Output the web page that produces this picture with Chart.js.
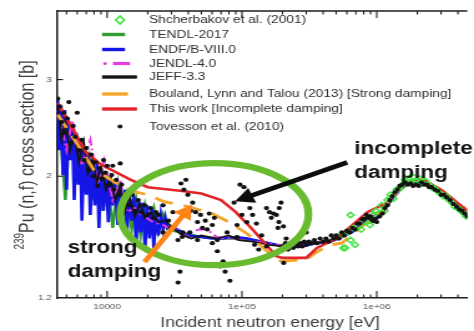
<!DOCTYPE html>
<html>
<head>
<meta charset="utf-8">
<script src="https://cdn.jsdelivr.net/npm/chart.js@4.4.1/dist/chart.umd.min.js"></script>
<style>
  html, body { margin: 0; padding: 0; background: #fff; overflow: hidden; }
  /* the figure is laid out on a narrower canvas and widened to 474px */
  #wrap { width: 380px; height: 331px; transform: scaleX(1.2474); transform-origin: 0 0; }
</style>
</head>
<body>
<div id="wrap"><canvas id="c" width="380" height="331"></canvas></div>
<script>
const FONT = "'Liberation Sans', Arial, Helvetica, sans-serif";

// Axis ticks
const xTickValues = [1e4, 1e5, 1e6];
const xTickLabels = ['10000', '1e+05', '1e+06'];
const xMinorValues = [5e3, 6e3, 7e3, 8e3, 9e3, 2e4, 3e4, 4e4, 5e4, 6e4, 7e4, 8e4, 9e4,
                      2e5, 3e5, 4e5, 5e5, 6e5, 7e5, 8e5, 9e5, 2e6, 3e6, 4e6];
const yTickValues = [1.2, 2, 3];
const yTickLabels = ['1.2', '2', '3'];

// Energies in eV, cross sections in barns
const shcherbakovE = [537e3, 565e3, 583e3, 606e3, 639e3, 639e3, 670e3, 690e3, 726e3, 765e3,
  806e3, 847e3, 890e3, 936e3, 984e3, 1.034e6, 1.087e6, 1.143e6, 1.20e6, 1.263e6,
  1.33e6, 1.40e6, 1.47e6, 1.54e6, 1.62e6, 1.71e6, 1.79e6, 1.89e6, 1.98e6, 2.08e6,
  2.19e6, 2.30e6, 2.42e6, 2.55e6, 2.68e6, 2.81e6, 2.96e6, 3.11e6, 3.27e6, 3.44e6,
  3.62e6, 3.80e6, 4.0e6, 4.2e6, 4.42e6, 4.62e6];
const shcherbakovXS = [1.56, 1.48, 1.48, 1.58, 1.53, 1.70, 1.61, 1.50, 1.62, 1.60,
  1.65, 1.68, 1.63, 1.70, 1.73, 1.71, 1.77, 1.73, 1.81, 1.85,
  1.82, 1.89, 1.90, 1.93, 1.97, 1.98, 1.95, 1.99, 1.97, 1.98,
  1.94, 1.96, 1.93, 1.91, 1.90, 1.88, 1.86, 1.84, 1.84, 1.81,
  1.79, 1.76, 1.75, 1.73, 1.71, 1.69];

const tendlE = [4300, 4600, 4900, 5200, 5600, 6000, 6400, 6900, 7400, 8000,
  8600, 9300, 10000, 11000, 12000, 13000, 14000, 15200, 16400, 17700,
  19100, 20600, 22200, 24000, 26000, 28000, 35000, 50000, 70000, 1e5,
  1.4e5, 2e5, 3e5, 4.5e5, 6e5, 7.5e5, 9e5, 1.1e6, 1.4e6, 1.7e6,
  2e6, 2.4e6, 3e6, 3.6e6, 4.7e6];
const tendlXS = [2.58, 2.23, 1.81, 2.33, 2.28, 1.97, 2.23, 1.89, 2.14, 1.81,
  2.07, 1.73, 2.01, 1.61, 1.93, 1.70, 1.85, 1.60, 1.81, 1.56,
  1.77, 1.63, 1.75, 1.58, 1.70, 1.60, 1.58, 1.55, 1.54, 1.54,
  1.52, 1.49, 1.50, 1.52, 1.57, 1.62, 1.68, 1.73, 1.86, 1.94,
  1.95, 1.94, 1.88, 1.82, 1.71];

const endfE = [4300, 4400, 4550, 4700, 4850, 5000, 5150, 5300, 5500, 5700,
  5900, 6100, 6300, 6500, 6750, 7000, 7250, 7500, 7800, 8100,
  8400, 8700, 9000, 9400, 9800, 10200, 10600, 11000, 11500, 12000,
  12500, 13000, 13500, 14000, 14600, 15200, 15800, 16400, 17000, 17700,
  18400, 19100, 19800, 20600, 21400, 22200, 23000, 24000, 25000, 26000,
  27000, 28000, 30000, 33000, 40000, 50000, 60000, 70000, 90000, 1.1e5,
  1.4e5, 1.8e5, 2.2e5, 2.8e5, 3.5e5, 4.5e5, 5.5e5, 6.5e5, 7.5e5, 8.5e5,
  9.5e5, 1.1e6, 1.3e6, 1.5e6, 1.7e6, 2e6, 2.2e6, 2.6e6, 3e6, 3.6e6,
  4.7e6];
const endfXS = [2.77, 2.23, 2.69, 2.01, 2.64, 1.89, 2.55, 2.14, 2.48, 1.81,
  2.40, 1.93, 2.33, 1.66, 2.25, 1.85, 2.21, 1.70, 2.16, 1.77,
  2.11, 1.61, 2.07, 1.73, 2.03, 1.65, 1.98, 1.77, 1.95, 1.63,
  1.92, 1.72, 1.89, 1.56, 1.86, 1.66, 1.84, 1.50, 1.81, 1.58,
  1.79, 1.47, 1.77, 1.54, 1.75, 1.48, 1.72, 1.56, 1.70, 1.60,
  1.68, 1.61, 1.62, 1.60, 1.56, 1.55, 1.54, 1.54, 1.55, 1.54,
  1.52, 1.50, 1.49, 1.49, 1.51, 1.52, 1.55, 1.58, 1.62, 1.68,
  1.66, 1.72, 1.82, 1.90, 1.94, 1.94, 1.95, 1.91, 1.87, 1.81,
  1.69];

const jendlE = [4300, 5000, 5500, 6500, 7500, 8500, 9500, 11000, 12500, 14000,
  16000, 18000, 22000, 26000, 30000, 33000, 39700, 42000, 48000, 55000,
  65000, 80000, 1e5, 1.3e5, 1.8e5, 2.5e5, 3.5e5, 4.5e5, 5.5e5, 6.5e5,
  7.5e5, 9e5, 1.1e6, 1.3e6, 1.5e6, 1.8e6, 2.1e6, 2.4e6, 3e6, 3.6e6,
  4.7e6];
const jendlXS = [2.64, 2.23, 2.53, 2.09, 2.33, 1.93, 2.14, 1.81, 1.97, 1.72,
  1.75, 1.70, 1.65, 1.63, 1.60, 1.60, 1.55, 1.58, 1.60, 1.60,
  1.55, 1.54, 1.53, 1.52, 1.50, 1.49, 1.51, 1.53, 1.55, 1.60,
  1.64, 1.68, 1.73, 1.84, 1.91, 1.96, 1.97, 1.95, 1.88, 1.81,
  1.71];

const jeffE = [4300, 4600, 4900, 5300, 5700, 6200, 6700, 7200, 7800, 8400,
  9000, 9800, 10600, 11500, 12500, 13500, 14600, 16000, 17500, 19000,
  21000, 24000, 27000, 30000, 35000, 42000, 50000, 65000, 80000, 95000,
  1.2e5, 1.6e5, 2e5, 2.8e5, 3.6e5, 4.5e5, 5.5e5, 6.5e5, 7.5e5, 8.5e5,
  9.5e5, 1.1e6, 1.3e6, 1.6e6, 1.8e6, 2e6, 2.2e6, 2.6e6, 3e6, 3.6e6,
  4.7e6];
const jeffXS = [2.69, 2.33, 2.51, 2.23, 2.40, 2.12, 2.31, 2.03, 2.16, 1.95,
  2.08, 1.89, 2.00, 1.81, 1.92, 1.72, 1.84, 1.69, 1.78, 1.68,
  1.72, 1.65, 1.66, 1.62, 1.57, 1.54, 1.56, 1.54, 1.56, 1.53,
  1.52, 1.50, 1.49, 1.51, 1.51, 1.53, 1.56, 1.61, 1.65, 1.69,
  1.65, 1.71, 1.84, 1.94, 1.93, 1.93, 1.95, 1.91, 1.86, 1.79,
  1.68];

const boulandE = [4300, 6000, 8000, 10000, 14000, 20000, 26000, 40000, 60000, 80000,
  1.1e5, 1.4e5, 1.8e5, 2e5, 3e5, 3.5e5, 4.5e5, 5.5e5, 7.5e5, 1.1e6,
  1.5e6, 1.9e6, 2.2e6, 3e6, 4.7e6];
const boulandXS = [2.59, 2.29, 2.05, 1.99, 1.89, 1.85, 1.80, 1.76, 1.71, 1.65,
  1.57, 1.49, 1.41, 1.40, 1.41, 1.45, 1.50, 1.51, 1.61, 1.73,
  1.91, 1.97, 1.97, 1.89, 1.73];

const thisWorkE = [4300, 5500, 7000, 9000, 15000, 20000, 36000, 50000, 70000, 90000,
  1.2e5, 1.8e5, 2e5, 3e5, 3.6e5, 5e5, 7e5, 8.5e5, 1.2e6, 1.5e6,
  1.9e6, 2.2e6, 3e6, 4.7e6];
const thisWorkXS = [2.72, 2.45, 2.21, 2.10, 1.97, 1.91, 1.88, 1.86, 1.81, 1.72,
  1.60, 1.43, 1.42, 1.42, 1.48, 1.54, 1.65, 1.72, 1.79, 1.92,
  1.97, 1.97, 1.89, 1.73];

// Tovesson et al. (2010): resolved region, intermediate region, fast region
const tovLowE = [4300, 4450, 4600, 4750, 4900, 5050, 5200, 5400, 5600, 5800,
  6000, 6250, 6500, 6750, 7000, 7300, 7600, 7900, 8200, 8500,
  8800, 9100, 9200, 9400, 9700, 10000, 10400, 10800, 11000, 11200,
  11700, 12200, 12500, 12800, 13400, 14000, 14700, 15400, 16200, 17000,
  18000, 19000, 20000, 21000, 22000, 23000, 24000, 26000, 28500, 30800];
const tovLowXS = [2.77, 2.68, 2.51, 2.61, 2.40, 2.55, 2.73, 2.30, 2.47, 2.36,
  2.61, 2.23, 2.33, 2.14, 2.25, 2.05, 2.19, 2.00, 2.12, 1.92,
  2.07, 1.98, 1.98, 2.14, 2.03, 2.09, 1.93, 2.01, 2.09, 1.89,
  1.97, 1.85, 2.11, 1.93, 1.81, 1.87, 1.77, 1.85, 1.73, 1.81,
  1.72, 1.77, 1.70, 1.75, 1.68, 1.72, 1.70, 1.77, 1.66, 1.72];
const tovMidE = [33500, 34700, 33600, 35300, 37100, 38400, 39700, 41700, 43100, 45300,
  46800, 49300, 50900, 53500, 55300, 57200, 60300, 62400, 65600, 65700,
  69000, 72500, 75000, 77600, 81500, 87400, 91900, 96700, 100000, 103400,
  108800, 114400, 120000, 128000, 133000, 140000, 144600, 152000, 160000, 165000,
  171000, 180000, 189000, 195000, 188000, 203000, 204000, 185000, 213000, 300000,
  36500, 41000, 46800, 60300, 92000, 124000, 152000, 26000, 29400, 36000];
const tovMidXS = [1.53, 1.34, 1.28, 1.94, 1.89, 1.97, 1.85, 1.73, 1.79, 1.72,
  1.65, 1.70, 1.61, 1.66, 1.60, 1.71, 1.63, 1.68, 1.53, 1.46,
  1.37, 1.40, 1.34, 1.58, 1.29, 1.79, 1.63, 1.93, 1.70, 1.91,
  1.65, 1.75, 1.70, 1.64, 1.47, 1.56, 1.42, 1.75, 1.72, 1.68,
  1.71, 1.70, 1.75, 1.79, 1.65, 1.62, 1.39, 1.61, 1.54, 1.58,
  1.58, 1.58, 1.53, 1.51, 1.55, 1.50, 1.49, 1.58, 1.61, 1.55];
const tovHighE = [2.0e5, 2.1e5, 2.2e5, 2.3e5, 2.4e5, 2.5e5, 2.6e5, 2.7e5, 2.8e5, 2.9e5,
  3.0e5, 3.15e5, 3.3e5, 3.45e5, 3.6e5, 3.8e5, 4.0e5, 4.2e5, 4.4e5, 4.6e5,
  4.8e5, 5.0e5, 5.25e5, 5.5e5, 5.75e5, 6.0e5, 6.3e5, 6.6e5, 6.9e5, 7.2e5,
  7.5e5, 7.8e5, 8.1e5, 8.4e5, 8.7e5, 9.0e5, 9.3e5, 9.6e5, 1.0e6, 1.05e6,
  1.1e6, 1.15e6, 1.2e6, 1.25e6, 1.3e6, 1.36e6, 1.42e6, 1.48e6, 1.55e6, 1.62e6,
  1.7e6, 1.78e6, 1.86e6, 1.95e6, 2.05e6, 2.15e6, 2.25e6, 2.35e6, 2.45e6, 2.55e6,
  2.7e6, 2.85e6, 3.0e6, 3.15e6, 3.3e6, 3.5e6, 3.7e6, 3.9e6, 4.1e6, 4.3e6,
  4.5e6, 4.7e6];
const tovHighXS = [1.49, 1.51, 1.47, 1.50, 1.48, 1.51, 1.49, 1.51, 1.49, 1.52,
  1.50, 1.52, 1.51, 1.53, 1.51, 1.54, 1.52, 1.54, 1.52, 1.56,
  1.54, 1.56, 1.54, 1.58, 1.56, 1.59, 1.58, 1.61, 1.60, 1.64,
  1.64, 1.67, 1.67, 1.70, 1.68, 1.69, 1.66, 1.67, 1.65, 1.69,
  1.71, 1.75, 1.77, 1.81, 1.84, 1.87, 1.89, 1.92, 1.93, 1.95,
  1.93, 1.94, 1.92, 1.93, 1.92, 1.95, 1.93, 1.93, 1.91, 1.91,
  1.89, 1.88, 1.85, 1.85, 1.83, 1.81, 1.78, 1.76, 1.74, 1.73,
  1.71, 1.69];

const tovE = tovLowE.concat(tovMidE, tovHighE);
const tovXS = tovLowXS.concat(tovMidXS, tovHighXS);

const toPts = (es, xs) => es.map((e, i) => ({ x: e, y: xs[i] }));

function lineSet(label, es, xs, color, width, dash, order, legendKind) {
  return {
    label, data: toPts(es, xs), showLine: true, borderColor: color, backgroundColor: color,
    borderWidth: width, borderDash: dash, pointRadius: 0, pointHoverRadius: 0,
    tension: 0, fill: false, order, legendKind
  };
}

const datasets = [
  {
    label: 'Shcherbakov et al. (2001)', data: toPts(shcherbakovE, shcherbakovXS),
    showLine: false, pointStyle: 'rectRot', pointRadius: 2.8, borderWidth: 1.4,
    borderColor: '#3fe33f', backgroundColor: 'rgba(255,255,255,0)', order: 2, legendKind: 'diamond'
  },
  lineSet('TENDL-2017', tendlE, tendlXS, '#2f9d2f', 2.4, [], 8, 'line'),
  lineSet('ENDF/B-VIII.0', endfE, endfXS, '#1515e8', 2.6, [], 7, 'line'),
  lineSet('JENDL-4.0', jendlE, jendlXS, '#e23ce2', 2.0, [2, 3, 9, 3], 6, 'dashdot'),
  lineSet('JEFF-3.3', jeffE, jeffXS, '#141414', 1.8, [], 5, 'line'),
  lineSet('Bouland, Lynn and Talou (2013) [Strong damping]', boulandE, boulandXS, '#f4a52a', 2.8, [15, 9], 4, 'line'),
  lineSet('This work [Incomplete damping]', thisWorkE, thisWorkXS, '#e2252b', 2.6, [], 3, 'line'),
  {
    label: 'Tovesson et al. (2010)', data: toPts(tovE, tovXS),
    showLine: false, pointStyle: 'circle', pointRadius: 2.1, borderWidth: 0,
    backgroundColor: '#121212', borderColor: '#121212', order: 1, legendKind: 'dot'
  }
];

// legend rows: vertical position and symbol span in canvas px
const legendLayout = [
  { y: 20, x0: 0, x1: 0 },
  { y: 34.5, x0: 81.8, x1: 100.2 },
  { y: 49.5, x0: 81.8, x1: 100.2 },
  { y: 63.5, x0: 90.6, x1: 104.2 },
  { y: 77, x0: 81.8, x1: 109.8 },
  { y: 94, x0: 81.8, x1: 102.6 },
  { y: 109, x0: 81.8, x1: 109.8 },
  { y: 126.5, x0: 0, x1: 0 }
];

function arrow(ctx, x0, y0, x1, y1, color, width, headLen, headHalf) {
  const dx = x1 - x0, dy = y1 - y0, len = Math.hypot(dx, dy);
  const ux = dx / len, uy = dy / len;
  const bx = x1 - ux * headLen, by = y1 - uy * headLen;
  ctx.strokeStyle = color; ctx.fillStyle = color; ctx.lineWidth = width; ctx.lineCap = 'butt';
  ctx.beginPath(); ctx.moveTo(x0, y0); ctx.lineTo(bx + ux * 2, by + uy * 2); ctx.stroke();
  ctx.beginPath();
  ctx.moveTo(x1, y1);
  ctx.lineTo(bx - uy * headHalf, by + ux * headHalf);
  ctx.lineTo(bx + uy * headHalf, by - ux * headHalf);
  ctx.closePath(); ctx.fill();
}

const decor = {
  id: 'decor',
  afterDraw(chart) {
    const { ctx, chartArea: a } = chart;
    const xs = chart.scales.x, ys = chart.scales.y;
    ctx.save();

    // top frame line and inward tick marks
    ctx.strokeStyle = '#1e1e1e'; ctx.lineWidth = 1.5;
    ctx.beginPath(); ctx.moveTo(a.left, a.top); ctx.lineTo(a.right, a.top); ctx.stroke();
    ctx.lineWidth = 1.1;
    const tick = (v, len) => {
      const px = xs.getPixelForValue(v);
      ctx.beginPath();
      ctx.moveTo(px, a.bottom); ctx.lineTo(px, a.bottom - len);
      ctx.moveTo(px, a.top); ctx.lineTo(px, a.top + len);
      ctx.stroke();
    };
    xTickValues.forEach(v => tick(v, 7));
    xMinorValues.forEach(v => tick(v, 3.5));
    yTickValues.slice(1).forEach(v => {
      const py = ys.getPixelForValue(v);
      ctx.beginPath(); ctx.moveTo(a.left, py); ctx.lineTo(a.left + 5, py); ctx.stroke();
    });

    // axis titles
    ctx.fillStyle = '#3c3c3c';
    ctx.font = `14px ${FONT}`; ctx.textAlign = 'center'; ctx.textBaseline = 'alphabetic';
    ctx.fillText('Incident neutron energy [eV]', 216.5, 327);

    ctx.save();
    ctx.translate(26.5, 155); ctx.rotate(-Math.PI / 2);
    const main = 'Pu (n,f) cross section [b]', sup = '239';
    ctx.font = `16px ${FONT}`; const wMain = ctx.measureText(main).width;
    ctx.font = `10px ${FONT}`; const wSup = ctx.measureText(sup).width;
    const start = -(wMain + wSup) / 2;
    ctx.textAlign = 'left';
    ctx.fillText(sup, start, -8);
    ctx.font = `16px ${FONT}`; ctx.fillText(main, start + wSup, 0);
    ctx.restore();

    // legend
    ctx.font = `11px ${FONT}`; ctx.textAlign = 'left'; ctx.textBaseline = 'middle';
    chart.data.datasets.forEach((ds, i) => {
      const L = legendLayout[i];
      if (ds.legendKind === 'diamond') {
        ctx.strokeStyle = ds.borderColor; ctx.lineWidth = 1.6;
        ctx.beginPath();
        ctx.moveTo(96.2, L.y - 4); ctx.lineTo(99.6, L.y); ctx.lineTo(96.2, L.y + 4); ctx.lineTo(92.8, L.y);
        ctx.closePath(); ctx.stroke();
      } else if (ds.legendKind === 'dot') {
        ctx.fillStyle = ds.backgroundColor;
        ctx.beginPath(); ctx.arc(96.2, L.y, 2, 0, Math.PI * 2); ctx.fill();
      } else if (ds.legendKind === 'dashdot') {
        ctx.strokeStyle = ds.borderColor; ctx.lineWidth = 3.2;
        ctx.beginPath(); ctx.moveTo(L.x0, L.y); ctx.lineTo(L.x1, L.y); ctx.stroke();
        ctx.fillStyle = ds.borderColor;
        ctx.beginPath(); ctx.arc(84.2, L.y, 1.5, 0, Math.PI * 2); ctx.fill();
      } else {
        ctx.strokeStyle = ds.borderColor; ctx.lineWidth = 3.4;
        ctx.beginPath(); ctx.moveTo(L.x0, L.y); ctx.lineTo(L.x1, L.y); ctx.stroke();
      }
      ctx.fillStyle = '#2e2e2e';
      ctx.fillText(ds.label, 119.5, L.y);
    });

    // highlighted region and pointers
    const P = (e, s) => [xs.getPixelForValue(e), ys.getPixelForValue(s)];
    const [ex, ey] = P(62470, 1.706);
    ctx.strokeStyle = '#68ba2e'; ctx.lineWidth = 6.2;
    ctx.beginPath(); ctx.ellipse(ex, ey, 75.4, 51, 0, 0, Math.PI * 2); ctx.stroke();

    const [bt0x, bt0y] = P(604000, 2.12), [bt1x, bt1y] = P(88900, 1.80);
    arrow(ctx, bt0x, bt0y, bt1x, bt1y, '#0c0c0c', 4.6, 15, 8);
    const [ot0x, ot0y] = P(18950, 1.396), [ot1x, ot1y] = P(42500, 1.775);
    arrow(ctx, ot0x, ot0y, ot1x, ot1y, '#ff8418', 4.4, 14, 8);

    ctx.fillStyle = '#111'; ctx.font = `bold 18px ${FONT}`;
    ctx.textAlign = 'left'; ctx.textBaseline = 'alphabetic';
    const [ix, iy] = P(680000, 2.20);
    ctx.fillText('incomplete', ix, iy);
    ctx.fillText('damping', ix, iy + 24);
    const [sx, sy] = P(5105, 1.449);
    ctx.fillText('strong', sx, sy);
    ctx.fillText('damping', sx, sy + 24);

    ctx.restore();
  }
};

Chart.defaults.font.family = FONT;

new Chart(document.getElementById('c'), {
  type: 'scatter',
  data: { datasets },
  options: {
    responsive: false,
    animation: false,
    devicePixelRatio: 1,
    layout: { padding: { top: 11, right: 0, bottom: 0, left: 0 } },
    plugins: { legend: { display: false }, tooltip: { enabled: false } },
    scales: {
      x: {
        type: 'logarithmic', min: 4230, max: 4.694e6,
        grid: { display: false, drawTicks: false },
        border: { display: true, color: '#1e1e1e', width: 1.5 },
        afterBuildTicks: s => { s.ticks = xTickValues.map(v => ({ value: v })); },
        afterFit: s => { s.height = 33; },
        ticks: {
          autoSkip: false, maxRotation: 0, padding: 4, color: '#555',
          font: { size: 8 }, callback: (v, i) => xTickLabels[i]
        }
      },
      y: {
        type: 'logarithmic', min: 1.2, max: 4.0,
        grid: { display: false, drawTicks: false },
        border: { display: true, color: '#1e1e1e', width: 1.5 },
        afterBuildTicks: s => { s.ticks = yTickValues.map(v => ({ value: v })); },
        afterFit: s => { s.width = 45.5; },
        ticks: {
          autoSkip: false, padding: 4, color: '#555',
          font: { size: 8 }, callback: (v, i) => yTickLabels[i]
        }
      }
    }
  },
  plugins: [decor]
});
</script>
</body>
</html>
